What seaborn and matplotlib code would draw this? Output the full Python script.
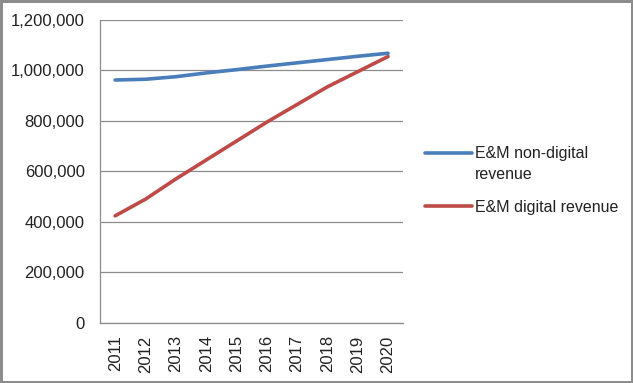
import numpy as np
import pandas as pd
import matplotlib.pyplot as plt
import seaborn as sns
from matplotlib.legend_handler import HandlerLine2D

years = ["2011", "2012", "2013", "2014", "2015", "2016", "2017", "2018", "2019", "2020"]
non_digital = [962000, 965000, 975000, 990000, 1003000, 1017000, 1030000, 1043000, 1056000, 1068000]
digital = [424000, 490000, 570000, 645000, 720000, 795000, 865000, 935000, 995000, 1055000]
series_names = ["E&M non-digital\nrevenue", "E&M digital revenue"]
colors = ["#4A7EBB", "#BE4B48"]

df = pd.DataFrame({
    "year": years * 2,
    "value": non_digital + digital,
    "series": [series_names[0]] * len(years) + [series_names[1]] * len(years),
})


class ShiftedLine(HandlerLine2D):
    # lift the legend line so it sits next to the first line of a wrapped label
    def __init__(self, shift, **kw):
        super().__init__(**kw)
        self.shift = shift

    def create_artists(self, legend, orig_handle, xdescent, ydescent, width, height, fontsize, trans):
        artists = super().create_artists(legend, orig_handle, xdescent, ydescent, width, height, fontsize, trans)
        for a in artists:
            a.set_ydata(np.asarray(a.get_ydata()) + self.shift)
        return artists


sns.set_style("white")
plt.rcParams["font.family"] = ["Liberation Sans", "DejaVu Sans"]

fig = plt.figure(figsize=(6.33, 3.83), dpi=100)
fig.patch.set_edgecolor("#8c8c8c")
fig.patch.set_linewidth(2.5)
ax = fig.add_axes([0.158, 0.157, 0.479, 0.791])

sns.lineplot(data=df, x="year", y="value", hue="series", palette=colors,
             linewidth=2.6, ax=ax, legend=True)

ax.set_ylim(0, 1200000)
ax.set_yticks(range(0, 1200001, 200000))
ax.set_yticklabels([f"{v:,}" for v in range(0, 1200001, 200000)], fontsize=12, color="#222222")
ax.set_xlim(-0.5, 9.5)
ax.set_xticks(range(len(years)))
ax.set_xticklabels(years, rotation=90, fontsize=12, color="#222222")
ax.set_xticks([i - 0.5 for i in range(len(years) + 1)], minor=True)
ax.tick_params(axis="x", which="major", length=0, pad=9)
ax.tick_params(axis="x", which="minor", length=5, color="#8c8c8c", direction="out")
ax.tick_params(axis="y", length=5, color="#8c8c8c", direction="out", pad=6)
ax.set_xlabel("")
ax.set_ylabel("")
ax.grid(axis="y", color="#8c8c8c", linewidth=0.9)
ax.set_axisbelow(True)
for side in ["top", "right"]:
    ax.spines[side].set_visible(False)
for side in ["left", "bottom"]:
    ax.spines[side].set_color("#8c8c8c")
    ax.spines[side].set_linewidth(0.9)

handles, labels = ax.get_legend_handles_labels()
leg = ax.legend(handles, labels, loc="upper left", bbox_to_anchor=(1.073, 0.585),
                frameon=False, fontsize=11.5, handlelength=2.9, handletextpad=0.2,
                labelspacing=1.1, labelcolor="#222222", borderaxespad=0, borderpad=0,
                handler_map={handles[0]: ShiftedLine(8)})
leg.get_texts()[0].set_linespacing(1.55)

fig.savefig("out.png", dpi=100)
